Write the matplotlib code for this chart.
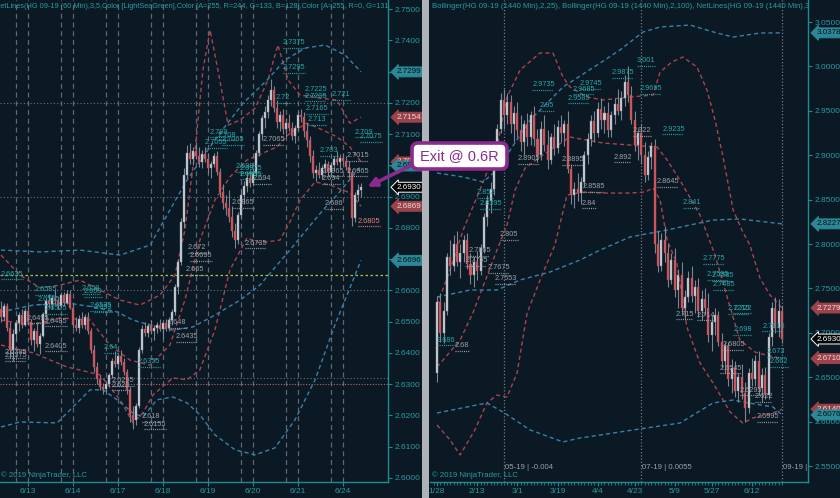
import numpy as np
import matplotlib
matplotlib.use("Agg")
import matplotlib.pyplot as plt
from matplotlib import transforms
from matplotlib.patches import Rectangle, FancyBboxPatch, FancyArrowPatch

plt.rcParams['font.family'] = ['Liberation Sans', 'DejaVu Sans']

# ---------------- HG 09-19, 60 minute bars ----------------
left_open = [2.6540, 2.6515, 2.6550, 2.6480, 2.6410, 2.6460, 2.6495, 2.6520, 2.6490, 2.6535,
             2.6500, 2.6440, 2.6470, 2.6430, 2.6455, 2.6525, 2.6565, 2.6555, 2.6575, 2.6565,
             2.6550, 2.6585, 2.6560, 2.6590, 2.6545, 2.6490, 2.6480, 2.6510, 2.6490, 2.6515,
             2.6470, 2.6410, 2.6355, 2.6315, 2.6290, 2.6285, 2.6300, 2.6330, 2.6375, 2.6365,
             2.6390, 2.6370, 2.6340, 2.6280, 2.6200, 2.6185, 2.6230, 2.6410, 2.6475, 2.6465,
             2.6485, 2.6470, 2.6480, 2.6490, 2.6475, 2.6495, 2.6480, 2.6505, 2.6530, 2.6610,
             2.6690, 2.6820, 2.6970, 2.7040, 2.7020, 2.7045, 2.7030, 2.7010, 2.7035, 2.7020,
             2.6990, 2.7005, 2.7030, 2.6980, 2.6915, 2.6880, 2.6865, 2.6835, 2.6790, 2.6760,
             2.6840, 2.6905, 2.6935, 2.6960, 2.6945, 2.6975, 2.7040, 2.7100, 2.7150, 2.7170,
             2.7210, 2.7240, 2.7185, 2.7140, 2.7160, 2.7115, 2.7135, 2.7120, 2.7095, 2.7120,
             2.7160, 2.7155, 2.7110, 2.7080, 2.7030, 2.6975, 2.6985, 2.6970, 2.6990, 2.7005,
             2.6980, 2.7000, 2.7020, 2.7010, 2.7025, 2.7015, 2.6995, 2.6975, 2.6830, 2.6905,
             2.6920]
left_high = [2.6565, 2.6560, 2.6560, 2.6500, 2.6475, 2.6505, 2.6530, 2.6540, 2.6545, 2.6550,
             2.6510, 2.6480, 2.6500, 2.6465, 2.6530, 2.6575, 2.6590, 2.6585, 2.6600, 2.6580,
             2.6595, 2.6595, 2.6600, 2.6600, 2.6555, 2.6515, 2.6520, 2.6530, 2.6525, 2.6530,
             2.6480, 2.6425, 2.6370, 2.6330, 2.6305, 2.6310, 2.6335, 2.6385, 2.6405, 2.6400,
             2.6410, 2.6385, 2.6350, 2.6290, 2.6230, 2.6240, 2.6420, 2.6490, 2.6500, 2.6495,
             2.6505, 2.6490, 2.6500, 2.6510, 2.6500, 2.6510, 2.6515, 2.6540, 2.6620, 2.6700,
             2.6830, 2.6990, 2.7065, 2.7070, 2.7060, 2.7075, 2.7060, 2.7050, 2.7060, 2.7040,
             2.7015, 2.7040, 2.7045, 2.6990, 2.6940, 2.6905, 2.6920, 2.6870, 2.6815, 2.6850,
             2.6920, 2.6950, 2.6975, 2.6985, 2.6990, 2.7050, 2.7110, 2.7160, 2.7190, 2.7225,
             2.7275, 2.7255, 2.7210, 2.7175, 2.7180, 2.7150, 2.7165, 2.7140, 2.7130, 2.7175,
             2.7180, 2.7170, 2.7135, 2.7095, 2.7050, 2.7000, 2.7010, 2.7000, 2.7020, 2.7015,
             2.7010, 2.7030, 2.7045, 2.7035, 2.7040, 2.7030, 2.7015, 2.6985, 2.6915, 2.6940,
             2.6945]
left_low = [2.6500, 2.6505, 2.6470, 2.6385, 2.6375, 2.6440, 2.6470, 2.6480, 2.6485, 2.6490,
            2.6425, 2.6405, 2.6420, 2.6395, 2.6450, 2.6510, 2.6545, 2.6540, 2.6555, 2.6540,
            2.6545, 2.6550, 2.6555, 2.6540, 2.6480, 2.6470, 2.6465, 2.6480, 2.6475, 2.6460,
            2.6400, 2.6340, 2.6300, 2.6280, 2.6270, 2.6275, 2.6290, 2.6320, 2.6355, 2.6350,
            2.6360, 2.6330, 2.6270, 2.6180, 2.6155, 2.6170, 2.6225, 2.6400, 2.6455, 2.6450,
            2.6460, 2.6440, 2.6465, 2.6470, 2.6445, 2.6470, 2.6470, 2.6490, 2.6520, 2.6590,
            2.6680, 2.6800, 2.6960, 2.7005, 2.7000, 2.7020, 2.6995, 2.6990, 2.7010, 2.6975,
            2.6960, 2.6995, 2.6970, 2.6900, 2.6860, 2.6840, 2.6820, 2.6770, 2.6735, 2.6750,
            2.6830, 2.6875, 2.6915, 2.6930, 2.6935, 2.6965, 2.7030, 2.7080, 2.7120, 2.7150,
            2.7190, 2.7170, 2.7120, 2.7110, 2.7100, 2.7090, 2.7110, 2.7080, 2.7070, 2.7110,
            2.7140, 2.7090, 2.7060, 2.7010, 2.6960, 2.6950, 2.6960, 2.6955, 2.6975, 2.6965,
            2.6970, 2.6985, 2.7000, 2.6990, 2.7000, 2.6985, 2.6960, 2.6805, 2.6820, 2.6885,
            2.6900]
left_close = [2.6515, 2.6550, 2.6480, 2.6410, 2.6460, 2.6495, 2.6520, 2.6490, 2.6535, 2.6500,
              2.6440, 2.6470, 2.6430, 2.6455, 2.6525, 2.6565, 2.6555, 2.6575, 2.6565, 2.6550,
              2.6585, 2.6560, 2.6590, 2.6545, 2.6490, 2.6480, 2.6510, 2.6490, 2.6515, 2.6470,
              2.6410, 2.6355, 2.6315, 2.6290, 2.6285, 2.6300, 2.6330, 2.6375, 2.6365, 2.6390,
              2.6370, 2.6340, 2.6280, 2.6200, 2.6185, 2.6230, 2.6410, 2.6475, 2.6465, 2.6485,
              2.6470, 2.6480, 2.6490, 2.6475, 2.6495, 2.6480, 2.6505, 2.6530, 2.6610, 2.6690,
              2.6820, 2.6970, 2.7040, 2.7020, 2.7045, 2.7030, 2.7010, 2.7035, 2.7020, 2.6990,
              2.7005, 2.7030, 2.6980, 2.6915, 2.6880, 2.6865, 2.6835, 2.6790, 2.6760, 2.6840,
              2.6905, 2.6935, 2.6960, 2.6945, 2.6975, 2.7040, 2.7100, 2.7150, 2.7170, 2.7210,
              2.7240, 2.7185, 2.7140, 2.7160, 2.7115, 2.7135, 2.7120, 2.7095, 2.7120, 2.7160,
              2.7155, 2.7110, 2.7080, 2.7030, 2.6975, 2.6985, 2.6970, 2.6990, 2.7005, 2.6980,
              2.7000, 2.7020, 2.7010, 2.7025, 2.7015, 2.6995, 2.6975, 2.6830, 2.6905, 2.6920,
              2.6930]

left_day_bars = [9, 24, 39, 54, 69, 84, 99, 114]
left_day_labels = ["6/13", "6/14", "6/17", "6/18", "6/19", "6/20", "6/21", "6/24"]

# Bollinger(2,25) - red, Bollinger(2,100) - blue : (bar, price) points
left_red_up_x = [0, 6.3, 13, 19.7, 26.3, 33, 39.7, 46.3, 53, 58, 61.3, 64.7, 67.3, 69.7, 72.3,
                 75.7, 79.7, 84.7, 89, 92.3, 95.7, 99.7, 106.3, 112, 116.3, 120]
left_red_up_y = [2.6713, 2.6649, 2.6608, 2.6617, 2.6633, 2.6601, 2.6569, 2.6553, 2.6585, 2.6649,
                 2.6793, 2.7049, 2.7305, 2.7433, 2.7305, 2.7129, 2.7145, 2.7183, 2.7273, 2.7385,
                 2.7273, 2.7225, 2.7215, 2.7209, 2.7135, 2.7154]
left_red_mid_x = [0, 9.7, 19.7, 29.7, 36.3, 43, 49.7, 56.3, 61.3, 66.3, 71.3, 76.3, 82, 87.3, 92,
                  96.3, 102, 107.3, 112, 116.3, 120]
left_red_mid_y = [2.6505, 2.6489, 2.6512, 2.6505, 2.6425, 2.6377, 2.6361, 2.6425, 2.6569, 2.6761,
                  2.6889, 2.6963, 2.7017, 2.7039, 2.7059, 2.7103, 2.7135, 2.7113, 2.7091, 2.7059,
                  2.7011]
left_red_lo_x = [0, 10.7, 22, 33, 39.7, 44, 47.3, 50.7, 57.3, 62, 66.3, 71.3, 76.3, 82, 86.3, 93,
                 96.3, 99.7, 104.7, 109.7, 116.3, 120]
left_red_lo_y = [2.6425, 2.6400, 2.6355, 2.6330, 2.6250, 2.6176, 2.6208, 2.6266, 2.6320, 2.6314,
                 2.6346, 2.6473, 2.6665, 2.6768, 2.6752, 2.6761, 2.6819, 2.6889, 2.6947, 2.6937,
                 2.6912, 2.6869]
left_blue_up_x = [0, 13, 26.3, 39.7, 49.7, 56.3, 62, 72, 80.7, 88.7, 94.7, 101.3, 108, 114.7, 120]
left_blue_up_y = [2.6729, 2.6723, 2.6729, 2.6713, 2.6745, 2.6857, 2.6953, 2.7091, 2.7199, 2.7273,
                  2.7337, 2.7375, 2.7385, 2.7353, 2.7299]
left_blue_mid_x = [0, 10.7, 22, 30.7, 38.7, 44, 49.7, 57.3, 64, 71.3, 79.7, 86.3, 96.3, 107.3,
                   112, 120]
left_blue_mid_y = [2.6531, 2.6553, 2.6560, 2.6547, 2.6531, 2.6505, 2.6489, 2.6473, 2.6483, 2.6521,
                   2.6569, 2.6617, 2.6729, 2.6857, 2.6905, 2.6998]
left_blue_lo_x = [0, 6.3, 18.7, 24, 29.7, 34, 38.7, 44, 47.3, 52, 57.3, 62, 66.3, 71.3, 78, 84.7,
                  91.3, 98, 104.7, 111.3, 120]
left_blue_lo_y = [2.6163, 2.6179, 2.6176, 2.6227, 2.6282, 2.6282, 2.6250, 2.6208, 2.6195, 2.6250,
                  2.6259, 2.6240, 2.6202, 2.6138, 2.6090, 2.6074, 2.6096, 2.6186, 2.6314, 2.6489,
                  2.6696]

left_grid_levels = [2.7200, 2.6900, 2.6600, 2.6320]
left_yellow_level = 2.6650
left_salmon_level = 2.6302

left_teal_labels = [(94, "2.7375"), (94, "2.7295"), (91.7, "2.72"), (101.3, "2.7225"),
                    (101.3, "2.7205"), (110.3, "2.721"), (101.7, "2.7165"), (102.3, "2.713"),
                    (106.3, "2.703"), (118, "2.709"), (119.7, "2.7075"), (69.7, "2.709"),
                    (72.3, "2.708"), (73.7, "2.7065"), (68, "2.7055"), (78.3, "2.698"),
                    (79.7, "2.6955"), (79.7, "2.6975"), (0, "2.6635"), (27, "2.659"),
                    (27.7, "2.658"), (29.7, "2.6535"), (31, "2.653"), (11.3, "2.6585"),
                    (12.3, "2.6555"), (14.7, "2.6525"), (34.3, "2.64"), (45.7, "2.6355")]
left_gray_labels = [(87.3, "2.7065"), (77, "2.6865"), (84, "2.694"), (81.3, "2.6735"),
                    (107, "2.6965"), (107, "2.694"), (108, "2.686"), (115.3, "2.7015"),
                    (115.3, "2.6965"), (62.3, "2.672"), (63, "2.6695"), (61.7, "2.665"),
                    (8.7, "2.6495"), (14.7, "2.6485"), (1.3, "2.6385"), (1.3, "2.6375"),
                    (14.7, "2.6405"), (37, "2.6295"), (37, "2.628"), (47, "2.618"),
                    (47.7, "2.6155"), (55.7, "2.648"), (58.3, "2.6435")]
left_red_labels = [(119, "2.6805")]

# ---------------- HG 09-19, daily bars ----------------
right_open = [2.655, 2.735, 2.700, 2.725, 2.785, 2.775, 2.800, 2.780, 2.790, 2.805,
              2.778, 2.765, 2.780, 2.770, 2.795, 2.830, 2.848, 2.862, 2.900, 2.930,
              2.962, 2.945, 2.960, 2.935, 2.948, 2.928, 2.915, 2.935, 2.920, 2.945,
              2.918, 2.900, 2.930, 2.912, 2.895, 2.920, 2.908, 2.932, 2.925, 2.935,
              2.885, 2.855, 2.862, 2.858, 2.870, 2.900, 2.918, 2.938, 2.925, 2.952,
              2.940, 2.948, 2.928, 2.945, 2.958, 2.950, 2.965, 2.982, 2.968, 2.940,
              2.912, 2.925, 2.900, 2.878, 2.898, 2.910, 2.800, 2.775, 2.805, 2.790,
              2.760, 2.782, 2.748, 2.765, 2.728, 2.740, 2.762, 2.742, 2.752, 2.725,
              2.738, 2.728, 2.698, 2.712, 2.720, 2.690, 2.668, 2.685, 2.648, 2.660,
              2.635, 2.650, 2.632, 2.615, 2.655, 2.648, 2.668, 2.638, 2.652, 2.630,
              2.695, 2.728, 2.705, 2.725]
right_high = [2.742, 2.745, 2.735, 2.790, 2.805, 2.810, 2.815, 2.800, 2.810, 2.812,
              2.790, 2.785, 2.792, 2.800, 2.835, 2.855, 2.870, 2.905, 2.935, 2.970,
              2.975, 2.970, 2.968, 2.955, 2.960, 2.945, 2.940, 2.948, 2.950, 2.955,
              2.930, 2.938, 2.945, 2.928, 2.925, 2.935, 2.940, 2.945, 2.940, 2.950,
              2.890, 2.870, 2.880, 2.875, 2.905, 2.925, 2.945, 2.950, 2.960, 2.965,
              2.955, 2.960, 2.950, 2.965, 2.975, 2.972, 2.990, 3.001, 2.978, 2.950,
              2.930, 2.935, 2.915, 2.905, 2.915, 2.918, 2.815, 2.812, 2.820, 2.800,
              2.790, 2.795, 2.772, 2.780, 2.748, 2.770, 2.775, 2.760, 2.762, 2.748,
              2.750, 2.745, 2.720, 2.728, 2.725, 2.700, 2.690, 2.690, 2.670, 2.668,
              2.655, 2.665, 2.645, 2.660, 2.672, 2.675, 2.680, 2.660, 2.662, 2.700,
              2.735, 2.740, 2.738, 2.730]
right_low = [2.645, 2.690, 2.688, 2.720, 2.765, 2.770, 2.775, 2.762, 2.780, 2.772,
             2.755, 2.752, 2.760, 2.765, 2.790, 2.820, 2.835, 2.855, 2.890, 2.925,
             2.930, 2.935, 2.925, 2.915, 2.920, 2.905, 2.900, 2.910, 2.912, 2.910,
             2.892, 2.895, 2.905, 2.885, 2.890, 2.900, 2.902, 2.915, 2.910, 2.880,
             2.845, 2.840, 2.848, 2.845, 2.865, 2.890, 2.910, 2.915, 2.920, 2.930,
             2.925, 2.920, 2.920, 2.935, 2.945, 2.940, 2.955, 2.960, 2.935, 2.905,
             2.895, 2.890, 2.870, 2.872, 2.885, 2.790, 2.768, 2.770, 2.780, 2.752,
             2.755, 2.740, 2.728, 2.720, 2.715, 2.735, 2.735, 2.722, 2.718, 2.714,
             2.720, 2.690, 2.680, 2.698, 2.685, 2.660, 2.655, 2.640, 2.632, 2.628,
             2.622, 2.625, 2.600, 2.610, 2.640, 2.640, 2.630, 2.622, 2.625, 2.625,
             2.685, 2.700, 2.695, 2.688]
right_close = [2.735, 2.700, 2.725, 2.785, 2.775, 2.800, 2.780, 2.790, 2.805, 2.778,
               2.765, 2.780, 2.770, 2.795, 2.830, 2.848, 2.862, 2.900, 2.930, 2.962,
               2.945, 2.960, 2.935, 2.948, 2.928, 2.915, 2.935, 2.920, 2.945, 2.918,
               2.900, 2.930, 2.912, 2.895, 2.920, 2.908, 2.932, 2.925, 2.935, 2.885,
               2.855, 2.862, 2.858, 2.870, 2.900, 2.918, 2.938, 2.925, 2.952, 2.940,
               2.948, 2.928, 2.945, 2.958, 2.950, 2.965, 2.982, 2.968, 2.940, 2.912,
               2.925, 2.900, 2.878, 2.898, 2.910, 2.800, 2.775, 2.805, 2.790, 2.760,
               2.782, 2.748, 2.765, 2.728, 2.740, 2.762, 2.742, 2.752, 2.725, 2.738,
               2.728, 2.698, 2.712, 2.720, 2.690, 2.668, 2.685, 2.648, 2.660, 2.635,
               2.650, 2.632, 2.615, 2.655, 2.648, 2.668, 2.638, 2.652, 2.630, 2.695,
               2.728, 2.705, 2.725, 2.693]

right_date_bars = [0, 12, 24, 36, 48, 59, 71, 82, 94]
right_date_labels = ["1/28", "2/13", "3/1", "3/19", "4/4", "4/23", "5/9", "5/27", "6/12"]
rollover_bars = [20, 61, 103]
rollover_text = ["05-19 | -0.004", "07-19 | 0.0055", "09-19 | 0.0000"]

right_red_up_x = [0, 3.9, 7.8, 12.8, 17.9, 20.9, 24.8, 30.7, 34.6, 37.6, 39.7, 44.8, 49.6, 57.6,
                  64.5, 66.6, 70.1, 73.4, 77.6, 80.6, 83, 85.4, 88.4, 91.3, 93.4, 96.4, 99.4, 103]
right_red_up_y = [2.7313, 2.7707, 2.8158, 2.8608, 2.9092, 2.9655, 2.9959, 3.0151, 3.0151, 2.9881,
                  2.9768, 2.9655, 2.9622, 2.9655, 2.9678, 2.9937, 3.0050, 3.0106, 2.9993, 2.9734,
                  2.9396, 2.8980, 2.8383, 2.8135, 2.7989, 2.7617, 2.7426, 2.7279]
right_red_mid_x = [0, 6.9, 10.7, 17.9, 20.9, 23.3, 26.3, 30.7, 39.7, 49.6, 57.6, 65.7, 68.7, 72.5,
                   78.5, 83, 86.6, 90.4, 94.9, 99.4, 103]
right_red_mid_y = [2.6615, 2.6919, 2.7223, 2.7932, 2.8214, 2.8608, 2.8856, 2.8980, 2.9205, 2.9137,
                   2.9115, 2.9092, 2.8946, 2.8721, 2.8327, 2.7876, 2.7403, 2.6919, 2.6784, 2.6739,
                   2.6710]
right_red_lo_x = [0, 3.9, 6.9, 11.3, 14.9, 17.9, 20.9, 23.9, 26.9, 31.6, 35.2, 38.8, 44.2, 49.6,
                  57.6, 62.1, 64.5, 66.6, 68.7, 71.6, 74.6, 78.5, 82.4, 87.5, 91.3, 94.3, 100.3, 103]
right_red_lo_y = [2.5962, 2.5793, 2.5625, 2.5906, 2.6210, 2.6300, 2.6277, 2.6547, 2.7223, 2.7674,
                  2.7989, 2.8552, 2.8586, 2.8574, 2.8574, 2.8586, 2.8631, 2.8496, 2.8045, 2.7786,
                  2.7065, 2.6660, 2.6435, 2.6108, 2.5984, 2.6041, 2.6097, 2.6140]
right_blue_up_x = [0, 7.8, 13.7, 17.9, 27.8, 37.6, 48.7, 54.6, 61.5, 66.6, 75.5, 83.6, 88.4, 96.4, 103]
right_blue_up_y = [2.8800, 2.8755, 2.8698, 2.8833, 2.9396, 2.9768, 3.0038, 3.0185, 3.0387, 3.0444,
                   3.0466, 3.0376, 3.0331, 3.0376, 3.0378]
right_blue_mid_x = [0, 9.9, 17.9, 24.8, 33.7, 42.7, 48.7, 57.6, 68.7, 82.4, 90.4, 103]
right_blue_mid_y = [2.7403, 2.7482, 2.7482, 2.7595, 2.7685, 2.7820, 2.7932, 2.8079, 2.8158, 2.8270,
                    2.8282, 2.8227]
right_blue_lo_x = [0, 14.9, 19.7, 27.8, 37.6, 42.7, 48.7, 58.5, 72.5, 82.4, 88.4, 91.3, 100.3, 103]
right_blue_lo_y = [2.6097, 2.6210, 2.6108, 2.5906, 2.5771, 2.5816, 2.5849, 2.5906, 2.5984, 2.6210,
                   2.6243, 2.6221, 2.6165, 2.6076]

right_teal_labels = [(28.4, "2.9735"), (42.7, "2.9745"), (30.7, "2.95"), (39.1, "2.9585"),
                     (40.6, "2.9685"), (52.2, "2.9875"), (60.6, "2.9695"), (59.7, "3.001"),
                     (67.2, "2.9235"), (73.4, "2.841"), (11.9, "2.852"), (12.8, "2.8395"),
                     (0, "2.686"), (79.4, "2.7775"), (80.6, "2.7595"), (82.1, "2.7585"),
                     (82.4, "2.7485"), (86.9, "2.7215"), (88.4, "2.722"), (88.4, "2.698"),
                     (97.1, "2.7015"), (98.5, "2.673"), (99.4, "2.662")]
right_gray_labels = [(24.2, "2.8905"), (37.3, "2.8895"), (52.8, "2.892"), (58.5, "2.922"),
                     (65.7, "2.8645"), (43.6, "2.8585"), (43.3, "2.84"), (18.8, "2.805"),
                     (9.3, "2.7865"), (15.2, "2.7675"), (8.4, "2.7755"), (17.3, "2.7553"),
                     (5.4, "2.68"), (71.3, "2.715"), (77.6, "2.714"), (85.4, "2.6805"),
                     (84.5, "2.6545"), (90.4, "2.6295"), (94.9, "2.622"), (95.5, "2.5995")]

# ---------------- styling ----------------
W, H = 840, 498
BG = '#0b1924'
AXIS = '#1f8b90'
TICK_TXT = '#2b9aa0'
UP_FACE, UP_EDGE = '#cdd3d9', '#8b939c'
DN_FACE, DN_EDGE = '#d65b63', '#a9474f'
WICK = '#7d8690'
RED_BAND = '#a9434d'
BLUE_BAND = '#3a80aa'
LBL_TEAL = '#25a8a8'
LBL_GRAY = '#9aa1a8'
LBL_RED = '#ea7d78'
PURPLE = '#8c2a8e'

fig = plt.figure(figsize=(W / 100, H / 100), dpi=100)
fig.patch.set_facecolor(BG)


def pixel_axes(x0, x1, y1):
    return fig.add_axes([x0 / W, 1 - y1 / H, (x1 - x0) / W, y1 / H])


axL = pixel_axes(0, 388, 482)
axR = pixel_axes(430, 808, 482)
axL.set_xlim(-0.333, 129.0)
axL.set_ylim(2.5987, 2.7529)
axR.set_xlim(-2.09, 110.75)
axR.set_ylim(2.5320, 3.0748)

for ax in (axL, axR):
    ax.set_facecolor(BG)
    ax.spines['top'].set_visible(False)
    ax.spines['left'].set_visible(False)
    for s in ('right', 'bottom'):
        ax.spines[s].set_color(AXIS)
        ax.spines[s].set_linewidth(1.0)
    ax.yaxis.tick_right()
    ax.tick_params(axis='both', which='major', colors=AXIS, labelcolor=TICK_TXT,
                   labelsize=6, length=3, width=0.8, pad=1.5)
    ax.tick_params(axis='x', which='minor', colors=AXIS, length=2.5, width=0.6)

axL.set_yticks([2.60 + 0.01 * k for k in range(16)])
axR.set_yticks([2.55 + 0.05 * k for k in range(11)])
for ax in (axL, axR):
    ax.set_yticklabels([f"{t:.4f}" for t in ax.get_yticks()])

axL.set_xticks(left_day_bars)
axL.set_xticklabels(left_day_labels)
axR.set_xticks(right_date_bars)
axR.set_xticklabels(right_date_labels)
axR.set_xticks(np.arange(-1, len(right_close)), minor=True)


def draw_candles(ax, o, h, l, c, width):
    o, h, l, c = map(np.asarray, (o, h, l, c))
    x = np.arange(len(c))
    up = c >= o
    ax.vlines(x, l, h, color=WICK, lw=0.8, zorder=3)
    bottom = np.minimum(o, c)
    height = np.maximum(np.abs(c - o), 0.0004)
    ax.bar(x[up], height[up], width, bottom=bottom[up], color=UP_FACE,
           edgecolor=UP_EDGE, lw=0.3, zorder=4)
    ax.bar(x[~up], height[~up], width, bottom=bottom[~up], color=DN_FACE,
           edgecolor=DN_EDGE, lw=0.3, zorder=4)


def draw_band(ax, xs, ys, color):
    ax.plot(xs, ys, color=color, lw=1.0, ls=(0, (3, 2.2)), zorder=2)


def draw_labels(ax, items, color, bars_per_char):
    for bar, txt in items:
        v = float(txt)
        ax.annotate(txt, (bar, v), xytext=(0, 1.2), textcoords='offset points',
                    ha='left', va='bottom', fontsize=5.3, color=color, zorder=6,
                    annotation_clip=False)
        ax.plot([bar, bar + len(txt) * bars_per_char], [v, v], color=color,
                lw=0.9, ls=(0, (0.8, 0.9)), zorder=6)


def draw_flag(ax, value, face, text_color, edge):
    tr = transforms.blended_transform_factory(ax.transAxes, ax.transData)
    ax.annotate(f"{value:.4f}", (1.0, value), xycoords=tr, xytext=(6, 0),
                textcoords='offset points', ha='left', va='center', fontsize=5.8,
                color=text_color, zorder=20, annotation_clip=False,
                bbox=dict(boxstyle='larrow,pad=0.18', fc=face, ec=edge, lw=0.7))


# left panel ------------------------------------------------------------
for b in left_day_bars:
    for xb in (b - 4, b):
        axL.axvline(xb, color='#5f6772', lw=0.9, ls=(0, (4, 3)), zorder=1)
for lv in left_grid_levels:
    axL.axhline(lv, color='#6a717b', lw=0.8, ls=(0, (1, 2)), zorder=1)
axL.axhline(left_yellow_level, color='#b9c23e', lw=0.9, ls=(0, (2, 2)), zorder=1)
axL.axhline(left_salmon_level, color='#b36a6a', lw=0.8, ls=(0, (1, 1.5)), zorder=1)

draw_band(axL, left_red_up_x, left_red_up_y, RED_BAND)
draw_band(axL, left_red_mid_x, left_red_mid_y, RED_BAND)
draw_band(axL, left_red_lo_x, left_red_lo_y, RED_BAND)
draw_band(axL, left_blue_up_x, left_blue_up_y, BLUE_BAND)
draw_band(axL, left_blue_mid_x, left_blue_mid_y, BLUE_BAND)
draw_band(axL, left_blue_lo_x, left_blue_lo_y, BLUE_BAND)
draw_candles(axL, left_open, left_high, left_low, left_close, 0.62)
draw_labels(axL, left_teal_labels, LBL_TEAL, 1.2)
draw_labels(axL, left_gray_labels, LBL_GRAY, 1.2)
draw_labels(axL, left_red_labels, LBL_RED, 1.2)

teal_flag = ('#2c8796', '#06141c', '#2c8796')
red_flag = ('#9a434b', '#f0d8d8', '#9a434b')
black_flag = ('#000000', '#ffffff', '#ffffff')
draw_flag(axL, left_blue_up_y[-1], *teal_flag)
draw_flag(axL, left_red_up_y[-1], *red_flag)
draw_flag(axL, left_red_mid_y[-1], *red_flag)
draw_flag(axL, left_blue_mid_y[-1], *teal_flag)
draw_flag(axL, left_red_lo_y[-1], *red_flag)
draw_flag(axL, left_blue_lo_y[-1], *teal_flag)
draw_flag(axL, left_close[-1], *black_flag)

axL.text(-0.012, 1 - 6 / 482,
         "NetLines(HG 09-19 (60 Min),3,5,Color [LightSeaGreen],Color [A=255, R=244, G=133, "
         "B=128],Color [A=255, R=0, G=131, B=139]",
         transform=axL.transAxes, fontsize=5.3, color=TICK_TXT, va='center', ha='left',
         clip_on=True)
axL.text(0.003, 3 / 482, "\u00a9 2019 NinjaTrader, LLC", transform=axL.transAxes,
         fontsize=5.6, color=TICK_TXT, va='bottom', ha='left')

# right panel -----------------------------------------------------------
bl = transforms.blended_transform_factory(axR.transData, axR.transAxes)
for b, t in zip(rollover_bars, rollover_text):
    axR.axvline(b, color='#737a84', lw=0.9, ls=(0, (1, 1.6)), zorder=1)
    axR.text(b + 0.3, 15 / 482, t, transform=bl, fontsize=5.6, color=LBL_GRAY,
             va='center', ha='left', clip_on=True)

draw_band(axR, right_red_up_x, right_red_up_y, RED_BAND)
draw_band(axR, right_red_mid_x, right_red_mid_y, RED_BAND)
draw_band(axR, right_red_lo_x, right_red_lo_y, RED_BAND)
draw_band(axR, right_blue_up_x, right_blue_up_y, BLUE_BAND)
draw_band(axR, right_blue_mid_x, right_blue_mid_y, BLUE_BAND)
draw_band(axR, right_blue_lo_x, right_blue_lo_y, BLUE_BAND)
draw_candles(axR, right_open, right_high, right_low, right_close, 0.6)
draw_labels(axR, right_teal_labels, LBL_TEAL, 1.05)
draw_labels(axR, right_gray_labels, LBL_GRAY, 1.05)

draw_flag(axR, right_blue_up_y[-1], *teal_flag)
draw_flag(axR, right_blue_mid_y[-1], *teal_flag)
draw_flag(axR, right_red_up_y[-1], *red_flag)
draw_flag(axR, right_close[-1], *black_flag)
draw_flag(axR, right_red_mid_y[-1], *red_flag)
draw_flag(axR, right_red_lo_y[-1], *red_flag)
draw_flag(axR, right_blue_lo_y[-1], *teal_flag)

axR.text(0.005, 1 - 6 / 482,
         "Bollinger(HG 09-19 (1440 Min),2,25), Bollinger(HG 09-19 (1440 Min),2,100), "
         "NetLines(HG 09-19 (1440 Min),3,5,Color [LightSeaGreen]",
         transform=axR.transAxes, fontsize=5.6, color=TICK_TXT, va='center', ha='left',
         clip_on=True)
axR.text(0.005, 3 / 482, "\u00a9 2019 NinjaTrader, LLC", transform=axR.transAxes,
         fontsize=5.6, color=TICK_TXT, va='bottom', ha='left')

# panel divider ---------------------------------------------------------
ident = transforms.IdentityTransform()
fig.add_artist(Rectangle((422, 0), 7, H, transform=ident, fc='#aeb3b9', ec='none', zorder=5))

# callout -----------------------------------------------------------------
box = FancyBboxPatch((412, H - 169), 95, 26, boxstyle='round,pad=0,rounding_size=6',
                     transform=ident, fc='white', ec=PURPLE, lw=2.6, zorder=30)
fig.add_artist(box)
fig.text(459.5, H - 156, "Exit @ 0.6R", transform=ident, ha='center', va='center',
         fontsize=10.5, color=PURPLE, zorder=31)
arrow = FancyArrowPatch((412, H - 165), (365, H - 188), transform=ident,
                        arrowstyle='-|>', mutation_scale=13, lw=2.6, color=PURPLE, zorder=29)
fig.add_artist(arrow)

fig.savefig("out.png", dpi=100, facecolor=BG)
